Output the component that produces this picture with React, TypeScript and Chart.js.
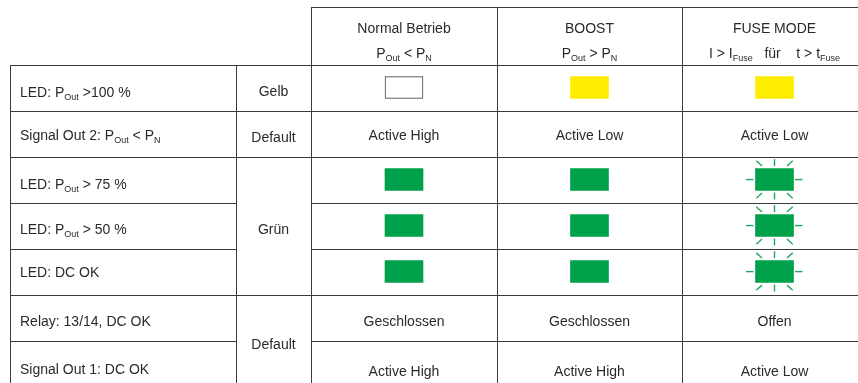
import React, { useEffect, useRef } from 'react';
import { Chart, registerables } from 'chart.js';

Chart.register(...registerables);

// ---------- data ----------
const rowLabels = [
  'LED: P_{Out} >100 %',
  'Signal Out 2: P_{Out} < P_{N}',
  'LED: P_{Out} > 75 %',
  'LED: P_{Out} > 50 %',
  'LED: DC OK',
  'Relay: 13/14, DC OK',
  'Signal Out 1: DC OK',
];
const groupLabels = ['Gelb', 'Default', 'Grün', 'Default'];
const groupFirstRow = [0, 1, 2, 5];
const groupLastRow = [0, 1, 4, 6];
const modeTitles = ['Normal Betrieb', 'BOOST', 'FUSE MODE'];
const modeConditions = ['P_{Out} < P_{N}', 'P_{Out} > P_{N}', 'I > I_{Fuse}   für    t > t_{Fuse}'];
const normalValues = ['off', 'Active High', 'green', 'green', 'green', 'Geschlossen', 'Active High'];
const boostValues = ['yellow', 'Active Low', 'green', 'green', 'green', 'Geschlossen', 'Active High'];
const fuseValues = ['yellow', 'Active Low', 'green-blink', 'green-blink', 'green-blink', 'Offen', 'Active Low'];

// ---------- layout / style ----------
const W = 858;
const H = 383;
const COL_EDGES = [10, 236, 311, 497, 682, 867];
const ROW_H = 46.03;
const TABLE_TOP = 65.5;
const HEADER_TOP = -1.26; // in row units
const Y_MIN = -TABLE_TOP / ROW_H;
const Y_MAX = (H - TABLE_TOP) / ROW_H;
const ROW_BASELINE = [31, 28.7, 31, 30.6, 27.4, 30.5, 32.5];
const LED_TOP = 0.24;
const LED_BOTTOM = 0.715;
const TEXT_COLOR = '#2a2a2a';
const LINE_COLOR = '#3a3a3a';
const MAIN_FONT = '14px "Liberation Sans", Arial, sans-serif';
const SUB_FONT = '9px "Liberation Sans", Arial, sans-serif';
const LED_STYLE: Record<string, { fill: string; border: string; bw: number }> = {
  off: { fill: '#ffffff', border: '#3a3a3a', bw: 1 },
  yellow: { fill: '#FFED00', border: '#FFED00', bw: 0 },
  green: { fill: '#00A14B', border: '#00A14B', bw: 0 },
  'green-blink': { fill: '#00A14B', border: '#00A14B', bw: 0 },
};
const modeValues = [normalValues, boostValues, fuseValues];

const isLed = (v: string) => v in LED_STYLE;
const colCenter = (c: number) => (COL_EDGES[c] + COL_EDGES[c + 1]) / 2;

function parseRich(s: string) {
  const parts: { t: string; sub: boolean }[] = [];
  const re = /_\{([^}]*)\}/g;
  let last = 0;
  let m: RegExpExecArray | null;
  while ((m = re.exec(s))) {
    if (m.index > last) parts.push({ t: s.slice(last, m.index), sub: false });
    parts.push({ t: m[1], sub: true });
    last = re.lastIndex;
  }
  if (last < s.length) parts.push({ t: s.slice(last), sub: false });
  return parts;
}

function drawRich(ctx: CanvasRenderingContext2D, s: string, x: number, y: number, align: 'left' | 'center') {
  const parts = parseRich(s);
  let w = 0;
  for (const p of parts) {
    ctx.font = p.sub ? SUB_FONT : MAIN_FONT;
    w += ctx.measureText(p.t).width;
  }
  let cx = align === 'center' ? x - w / 2 : x;
  ctx.textAlign = 'left';
  ctx.textBaseline = 'alphabetic';
  for (const p of parts) {
    ctx.font = p.sub ? SUB_FONT : MAIN_FONT;
    ctx.fillText(p.t, cx, y + (p.sub ? 3 : 0));
    cx += ctx.measureText(p.t).width;
  }
}

const crisp = (v: number) => Math.floor(v) + 0.5;

const tablePlugin = {
  id: 'tablePlugin',
  beforeDatasetsDraw(chart: any) {
    const { ctx, scales } = chart;
    const xs = scales.x;
    const ys = scales.y;
    const px = (v: number) => xs.getPixelForValue(v);
    const py = (v: number) => ys.getPixelForValue(v);
    ctx.save();
    ctx.strokeStyle = LINE_COLOR;
    ctx.lineWidth = 1;
    const hline = (y: number, x0: number, x1: number) => {
      ctx.beginPath();
      ctx.moveTo(x0, crisp(y));
      ctx.lineTo(x1, crisp(y));
      ctx.stroke();
    };
    const vline = (x: number, y0: number, y1: number) => {
      ctx.beginPath();
      ctx.moveTo(crisp(x), y0);
      ctx.lineTo(crisp(x), y1);
      ctx.stroke();
    };
    const right = px(COL_EDGES[5]);
    hline(py(HEADER_TOP), px(COL_EDGES[2]), right);
    hline(py(0), px(COL_EDGES[0]), right);
    for (let r = 1; r < rowLabels.length; r++) {
      const y = py(r);
      hline(y, px(COL_EDGES[0]), px(COL_EDGES[1]) + 0.5);
      if (groupFirstRow.includes(r)) hline(y, px(COL_EDGES[1]), px(COL_EDGES[2]) + 0.5);
      hline(y, px(COL_EDGES[2]), right);
    }
    vline(px(COL_EDGES[0]), crisp(py(0)), H);
    vline(px(COL_EDGES[1]), crisp(py(0)), H);
    for (let c = 2; c < 5; c++) vline(px(COL_EDGES[c]), crisp(py(HEADER_TOP)), H);

    ctx.fillStyle = TEXT_COLOR;
    // header
    const hTop = py(HEADER_TOP);
    modeTitles.forEach((t, i) => drawRich(ctx, t, px(colCenter(i + 2)), hTop + 25, 'center'));
    modeConditions.forEach((t, i) => drawRich(ctx, t, px(colCenter(i + 2)), hTop + 50, 'center'));
    // row labels
    rowLabels.forEach((t, r) => drawRich(ctx, t, px(COL_EDGES[0]) + 10, py(r) + ROW_BASELINE[r], 'left'));
    // group labels
    groupLabels.forEach((t, g) => {
      const yc = (py(groupFirstRow[g]) + py(groupLastRow[g] + 1)) / 2;
      drawRich(ctx, t, px(colCenter(1)), yc + 7, 'center');
    });
    // value texts
    modeValues.forEach((vals, m) => {
      vals.forEach((v, r) => {
        if (isLed(v)) return;
        const extra = r === rowLabels.length - 1 ? 1.5 : 0;
        drawRich(ctx, v, px(colCenter(m + 2)), py(r) + ROW_BASELINE[r] + extra, 'center');
      });
    });
    ctx.restore();
  },
  afterDatasetsDraw(chart: any) {
    const { ctx } = chart;
    const meta = chart.getDatasetMeta(0);
    const raw = chart.data.datasets[0].data as any[];
    ctx.save();
    ctx.strokeStyle = '#1fa85a';
    ctx.lineWidth = 1.4;
    meta.data.forEach((el: any, i: number) => {
      if (raw[i].state !== 'green-blink') return;
      const p = el.getProps(['x', 'y', 'base', 'width'], true);
      const cx = p.x;
      const cy = (p.y + p.base) / 2;
      const hw = p.width / 2;
      const hh = Math.abs(p.base - p.y) / 2;
      const seg = (x0: number, y0: number, x1: number, y1: number) => {
        ctx.beginPath();
        ctx.moveTo(cx + x0, cy + y0);
        ctx.lineTo(cx + x1, cy + y1);
        ctx.stroke();
      };
      seg(-hw - 2, 0, -hw - 9.5, 0);
      seg(hw + 1.5, 0, hw + 9, 0);
      seg(0, -hh - 2.5, 0, -hh - 9.5);
      seg(0, hh + 2, 0, hh + 9);
      for (const sx of [-1, 1]) {
        for (const sy of [-1, 1]) {
          seg(sx * (hw - 6.5), sy * (hh + 2.6), sx * (hw - 0.8), sy * (hh + 7.8));
        }
      }
    });
    ctx.restore();
  },
};

export default function App() {
  const ref = useRef<HTMLCanvasElement | null>(null);
  useEffect(() => {
    if (!ref.current) return;
    const points: any[] = [];
    modeValues.forEach((vals, m) => {
      vals.forEach((v, r) => {
        if (isLed(v)) points.push({ x: colCenter(m + 2), y: [r + LED_TOP, r + LED_BOTTOM], state: v });
      });
    });
    const chart = new Chart(ref.current, {
      type: 'bar',
      data: {
        datasets: [
          {
            data: points,
            backgroundColor: points.map((p) => LED_STYLE[p.state].fill),
            borderColor: points.map((p) => LED_STYLE[p.state].border),
            borderWidth: points.map((p) => LED_STYLE[p.state].bw),
            borderSkipped: false,
            barThickness: 38,
          } as any,
        ],
      },
      options: {
        responsive: false,
        animation: false,
        devicePixelRatio: 1,
        events: [],
        layout: { padding: 0 },
        plugins: { legend: { display: false }, tooltip: { enabled: false } },
        scales: {
          x: { type: 'linear', min: 0, max: W, display: false, offset: false },
          y: { type: 'linear', min: Y_MIN, max: Y_MAX, reverse: true, display: false },
        },
      },
      plugins: [tablePlugin],
    });
    return () => chart.destroy();
  }, []);
  return (
    <div style={{ position: 'absolute', left: 0, top: 0, width: W, height: H, background: '#fff' }}>
      <canvas ref={ref} width={W} height={H} style={{ display: 'block' }} />
    </div>
  );
}
